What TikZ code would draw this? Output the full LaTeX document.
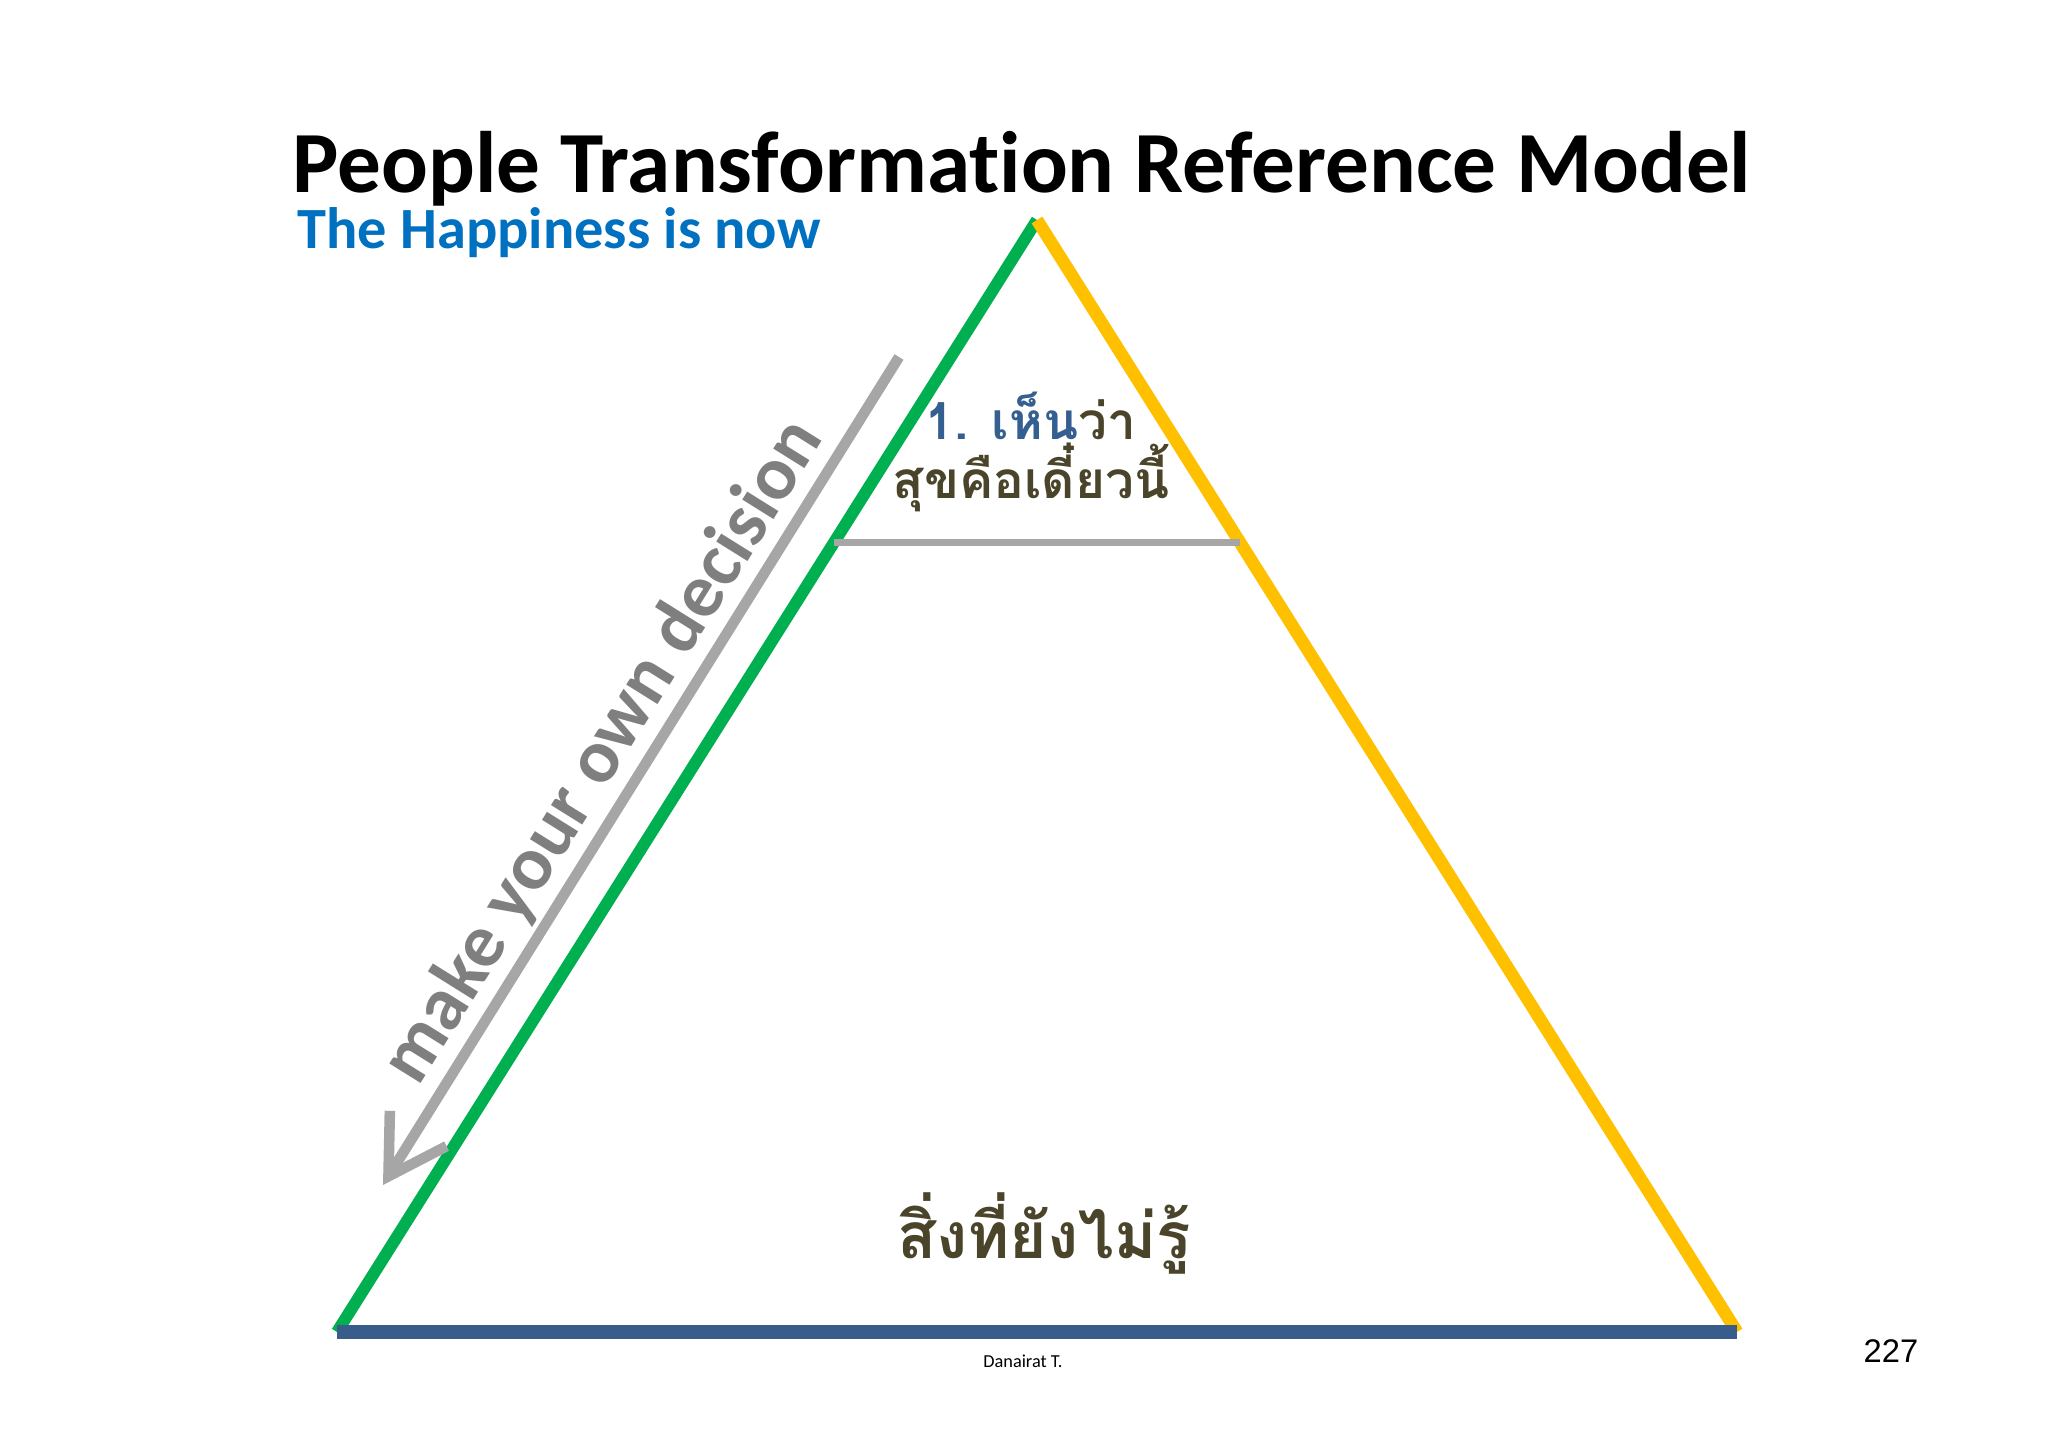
\documentclass[tikz,border=0pt]{standalone}
\usepackage{fontspec}
\setmainfont{Carlito}[Ligatures=NoCommon]
\newfontfamily\thaifont[Script=Thai]{Loma}
\newfontfamily\arialfont{Liberation Sans}
\usetikzlibrary{arrows.meta,calc}

\definecolor{edgegreen}{RGB}{0,176,80}
\definecolor{edgeyellow}{RGB}{255,192,0}
\definecolor{edgeblue}{RGB}{56,93,138}
\definecolor{linegrey}{RGB}{166,166,166}
\definecolor{textgrey}{RGB}{127,127,127}
\definecolor{subblue}{RGB}{0,112,192}
\definecolor{thaiblue}{RGB}{54,95,145}
\definecolor{thaiolive}{RGB}{74,69,42}

\tikzset{
    edge/.style={line width=3.4pt},
    thaitext/.style={font=\thaifont\bfseries, text=thaiolive, inner sep=0pt}
}

\begin{document}
\begin{tikzpicture}[x=0.01cm, y=-0.01cm]

    \useasboundingbox (0,0) rectangle (2048,1448);
    \fill[white] (0,0) rectangle (2048,1448);

    % Title
    \node[anchor=base, font=\bfseries\fontsize{24.8}{30}\selectfont, inner sep=0pt] (title) at (1022,192) {People Transformation Reference Model};
    \node[anchor=base west, font=\bfseries\fontsize{16.6}{20}\selectfont, text=subblue, inner sep=0pt] (subtitle) at (297,248) {The Happiness is now};

    % Triangle
    \coordinate (apex) at (1037,220);
    \coordinate (left) at (337,1332);
    \coordinate (right) at (1737,1332);

    \draw[edge, edgegreen] (left) -- (apex);
    \draw[edge, edgeyellow, line width=3.6pt] (apex) -- (right);
    \draw[line width=4.2pt, edgeblue] (left) -- (right);

    % level line
    \coordinate (lvlL) at ($(apex)!0.29!(left)$);
    \coordinate (lvlR) at ($(apex)!0.29!(right)$);
    \draw[line width=1.9pt, linegrey] (lvlL) -- (lvlR);

    % Arrow and its label
    \coordinate (arrS) at (899,357);
    \coordinate (arrE) at (383,1185);
    \draw[line width=3pt, linegrey, -{Straight Barb[length=16pt, width=19pt]}] (arrS) -- (arrE);
    \node[rotate=58, font=\bfseries\fontsize{21.6}{26}\selectfont, text=textgrey, inner sep=0pt] (decision) at (604,752) {make your own decision};

    % Thai labels
    \node[thaitext, anchor=base, font=\thaifont\bfseries\fontsize{14.6}{18}\selectfont] (level1) at (1031,439) {\textcolor{thaiblue}{1. เห็น}ว่า};
    \node[thaitext, anchor=base, font=\thaifont\bfseries\fontsize{14.6}{18}\selectfont] (level1b) at (1031,498) {สุขคือเดี๋ยวนี้};
    \node[thaitext, anchor=base, font=\thaifont\bfseries\fontsize{18.2}{22}\selectfont] (unknown) at (1044,1258) {สิ่งที่ยังไม่รู้};

    % Footer
    \node[anchor=base, font=\fontsize{5.2}{6}\selectfont, inner sep=0pt] (author) at (1023,1367) {Danairat T.};
    \node[anchor=base, font=\arialfont\fontsize{9.3}{11}\selectfont, inner sep=0pt] (page) at (1891,1362) {227};

\end{tikzpicture}
\end{document}
